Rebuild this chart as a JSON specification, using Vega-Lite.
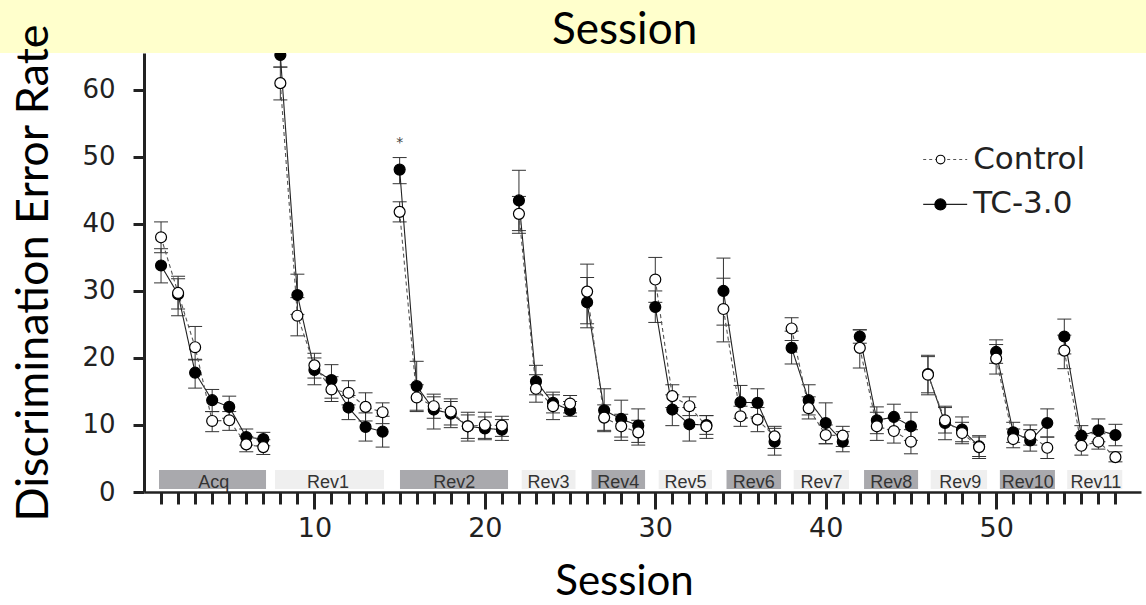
{
  "$schema": "https://vega.github.io/schema/vega-lite/v6.json",
  "width": 997,
  "height": 439,
  "autosize": {"type": "none"},
  "padding": {"left": 144, "top": 53, "right": 5, "bottom": 113},
  "background": "#ffffff",
  "config": {"view": {"stroke": null}},
  "resolve": {"axis": {"x": "independent"}},
  "datasets": {
    "blocks": [
      {"block": "Acq", "start": 0.88, "end": 7.16, "mid": 4.1, "shade": "dark"},
      {"block": "Rev1", "start": 7.69, "end": 14.08, "mid": 10.8, "shade": "light"},
      {"block": "Rev2", "start": 15.02, "end": 21.36, "mid": 18.2, "shade": "dark"},
      {"block": "Rev3", "start": 22.16, "end": 25.32, "mid": 23.74, "shade": "light"},
      {"block": "Rev4", "start": 26.26, "end": 29.4, "mid": 27.83, "shade": "dark"},
      {"block": "Rev5", "start": 30.2, "end": 33.33, "mid": 31.77, "shade": "light"},
      {"block": "Rev6", "start": 34.18, "end": 37.38, "mid": 35.78, "shade": "dark"},
      {"block": "Rev7", "start": 38.12, "end": 41.37, "mid": 39.75, "shade": "light"},
      {"block": "Rev8", "start": 42.25, "end": 45.42, "mid": 43.84, "shade": "dark"},
      {"block": "Rev9", "start": 46.16, "end": 49.47, "mid": 47.9, "shade": "light"},
      {"block": "Rev10", "start": 50.22, "end": 53.45, "mid": 51.86, "shade": "dark"},
      {"block": "Rev11", "start": 54.17, "end": 57.4, "mid": 55.85, "shade": "light"}
    ],
    "note": [{"session": 15, "rate": 52.0, "mark": "*"}],
    "pts": [
      {"session": 1, "block": "Acq", "group": "TC-3.0", "rate": 33.8, "lo": 31.2, "hi": 36.3},
      {"session": 2, "block": "Acq", "group": "TC-3.0", "rate": 29.5, "lo": 26.3, "hi": 31.8},
      {"session": 3, "block": "Acq", "group": "TC-3.0", "rate": 17.8, "lo": 15.5, "hi": 19.8},
      {"session": 4, "block": "Acq", "group": "TC-3.0", "rate": 13.7, "lo": 12.0, "hi": 15.3},
      {"session": 5, "block": "Acq", "group": "TC-3.0", "rate": 12.7, "lo": 11.0, "hi": 14.3},
      {"session": 6, "block": "Acq", "group": "TC-3.0", "rate": 8.2, "lo": 7.0, "hi": 9.4},
      {"session": 7, "block": "Acq", "group": "TC-3.0", "rate": 7.9, "lo": 6.9, "hi": 8.9},
      {"session": 8, "block": "Rev1", "group": "TC-3.0", "rate": 65.2, "lo": 63.4, "hi": 67.0},
      {"session": 9, "block": "Rev1", "group": "TC-3.0", "rate": 29.4, "lo": 26.5, "hi": 32.5},
      {"session": 10, "block": "Rev1", "group": "TC-3.0", "rate": 18.2, "lo": 16.0, "hi": 20.0},
      {"session": 11, "block": "Rev1", "group": "TC-3.0", "rate": 16.7, "lo": 14.0, "hi": 19.0},
      {"session": 12, "block": "Rev1", "group": "TC-3.0", "rate": 12.6, "lo": 10.8, "hi": 14.4},
      {"session": 13, "block": "Rev1", "group": "TC-3.0", "rate": 9.7, "lo": 7.6, "hi": 11.8},
      {"session": 14, "block": "Rev1", "group": "TC-3.0", "rate": 9.0, "lo": 6.7, "hi": 11.3},
      {"session": 15, "block": "Rev2", "group": "TC-3.0", "rate": 48.1, "lo": 46.0, "hi": 49.9},
      {"session": 16, "block": "Rev2", "group": "TC-3.0", "rate": 15.8, "lo": 12.0, "hi": 19.5},
      {"session": 17, "block": "Rev2", "group": "TC-3.0", "rate": 12.3, "lo": 9.4, "hi": 14.2},
      {"session": 18, "block": "Rev2", "group": "TC-3.0", "rate": 11.7, "lo": 9.6, "hi": 13.5},
      {"session": 19, "block": "Rev2", "group": "TC-3.0", "rate": 9.8, "lo": 8.0, "hi": 11.5},
      {"session": 20, "block": "Rev2", "group": "TC-3.0", "rate": 9.5, "lo": 7.8, "hi": 11.2},
      {"session": 21, "block": "Rev2", "group": "TC-3.0", "rate": 9.3, "lo": 7.7, "hi": 10.8},
      {"session": 22, "block": "Rev3", "group": "TC-3.0", "rate": 43.5, "lo": 39.0, "hi": 48.0},
      {"session": 23, "block": "Rev3", "group": "TC-3.0", "rate": 16.5, "lo": 14.5, "hi": 18.9},
      {"session": 24, "block": "Rev3", "group": "TC-3.0", "rate": 13.3, "lo": 11.8, "hi": 14.9},
      {"session": 25, "block": "Rev3", "group": "TC-3.0", "rate": 12.2, "lo": 11.3, "hi": 13.5},
      {"session": 26, "block": "Rev4", "group": "TC-3.0", "rate": 28.3, "lo": 24.5, "hi": 32.0},
      {"session": 27, "block": "Rev4", "group": "TC-3.0", "rate": 12.2, "lo": 9.0, "hi": 15.4},
      {"session": 28, "block": "Rev4", "group": "TC-3.0", "rate": 10.9, "lo": 8.2, "hi": 13.7},
      {"session": 29, "block": "Rev4", "group": "TC-3.0", "rate": 9.9, "lo": 7.4, "hi": 12.4},
      {"session": 30, "block": "Rev5", "group": "TC-3.0", "rate": 27.6, "lo": 25.3, "hi": 30.0},
      {"session": 31, "block": "Rev5", "group": "TC-3.0", "rate": 12.3, "lo": 9.9, "hi": 14.5},
      {"session": 32, "block": "Rev5", "group": "TC-3.0", "rate": 10.1, "lo": 7.6, "hi": 12.6},
      {"session": 33, "block": "Rev5", "group": "TC-3.0", "rate": 10.0, "lo": 8.6, "hi": 11.4},
      {"session": 34, "block": "Rev6", "group": "TC-3.0", "rate": 30.0, "lo": 24.9, "hi": 34.9},
      {"session": 35, "block": "Rev6", "group": "TC-3.0", "rate": 13.4, "lo": 11.0, "hi": 15.9},
      {"session": 36, "block": "Rev6", "group": "TC-3.0", "rate": 13.3, "lo": 11.2, "hi": 15.4},
      {"session": 37, "block": "Rev6", "group": "TC-3.0", "rate": 7.5, "lo": 5.5, "hi": 9.5},
      {"session": 38, "block": "Rev7", "group": "TC-3.0", "rate": 21.5, "lo": 19.1, "hi": 24.0},
      {"session": 39, "block": "Rev7", "group": "TC-3.0", "rate": 13.7, "lo": 11.5, "hi": 16.0},
      {"session": 40, "block": "Rev7", "group": "TC-3.0", "rate": 10.3, "lo": 7.2, "hi": 13.3},
      {"session": 41, "block": "Rev7", "group": "TC-3.0", "rate": 7.5, "lo": 6.0, "hi": 9.0},
      {"session": 42, "block": "Rev8", "group": "TC-3.0", "rate": 23.2, "lo": 22.2, "hi": 24.2},
      {"session": 43, "block": "Rev8", "group": "TC-3.0", "rate": 10.7, "lo": 8.7, "hi": 12.7},
      {"session": 44, "block": "Rev8", "group": "TC-3.0", "rate": 11.2, "lo": 9.3, "hi": 13.1},
      {"session": 45, "block": "Rev8", "group": "TC-3.0", "rate": 9.8, "lo": 7.7, "hi": 11.9},
      {"session": 46, "block": "Rev9", "group": "TC-3.0", "rate": 17.6, "lo": 14.8, "hi": 20.2},
      {"session": 47, "block": "Rev9", "group": "TC-3.0", "rate": 10.3, "lo": 7.8, "hi": 12.8},
      {"session": 48, "block": "Rev9", "group": "TC-3.0", "rate": 9.3, "lo": 7.5, "hi": 11.2},
      {"session": 49, "block": "Rev9", "group": "TC-3.0", "rate": 6.8, "lo": 5.3, "hi": 8.2},
      {"session": 50, "block": "Rev10", "group": "TC-3.0", "rate": 20.9, "lo": 19.2, "hi": 22.7},
      {"session": 51, "block": "Rev10", "group": "TC-3.0", "rate": 8.9, "lo": 7.4, "hi": 10.4},
      {"session": 52, "block": "Rev10", "group": "TC-3.0", "rate": 7.7, "lo": 6.1, "hi": 9.3},
      {"session": 53, "block": "Rev10", "group": "TC-3.0", "rate": 10.3, "lo": 8.2, "hi": 12.4},
      {"session": 54, "block": "Rev11", "group": "TC-3.0", "rate": 23.2, "lo": 20.6, "hi": 25.8},
      {"session": 55, "block": "Rev11", "group": "TC-3.0", "rate": 8.4, "lo": 7.0, "hi": 9.9},
      {"session": 56, "block": "Rev11", "group": "TC-3.0", "rate": 9.2, "lo": 7.5, "hi": 10.9},
      {"session": 57, "block": "Rev11", "group": "TC-3.0", "rate": 8.5, "lo": 6.9, "hi": 10.1},
      {"session": 1, "block": "Acq", "group": "Control", "rate": 38.0, "lo": 35.7, "hi": 40.3},
      {"session": 2, "block": "Acq", "group": "Control", "rate": 29.7, "lo": 27.3, "hi": 32.2},
      {"session": 3, "block": "Acq", "group": "Control", "rate": 21.6, "lo": 19.7, "hi": 24.7},
      {"session": 4, "block": "Acq", "group": "Control", "rate": 10.6, "lo": 9.0, "hi": 12.0},
      {"session": 5, "block": "Acq", "group": "Control", "rate": 10.7, "lo": 9.2, "hi": 12.0},
      {"session": 6, "block": "Acq", "group": "Control", "rate": 7.1, "lo": 6.0, "hi": 8.3},
      {"session": 7, "block": "Acq", "group": "Control", "rate": 6.7, "lo": 5.6, "hi": 7.8},
      {"session": 8, "block": "Rev1", "group": "Control", "rate": 61.0, "lo": 58.5, "hi": 63.4},
      {"session": 9, "block": "Rev1", "group": "Control", "rate": 26.3, "lo": 23.3, "hi": 29.0},
      {"session": 10, "block": "Rev1", "group": "Control", "rate": 18.9, "lo": 17.0, "hi": 20.7},
      {"session": 11, "block": "Rev1", "group": "Control", "rate": 15.3, "lo": 13.5, "hi": 17.2},
      {"session": 12, "block": "Rev1", "group": "Control", "rate": 14.8, "lo": 13.0, "hi": 16.6},
      {"session": 13, "block": "Rev1", "group": "Control", "rate": 12.7, "lo": 10.6, "hi": 14.8},
      {"session": 14, "block": "Rev1", "group": "Control", "rate": 11.9, "lo": 10.2, "hi": 13.3},
      {"session": 15, "block": "Rev2", "group": "Control", "rate": 41.8, "lo": 40.3, "hi": 43.3},
      {"session": 16, "block": "Rev2", "group": "Control", "rate": 14.1, "lo": 12.2, "hi": 16.0},
      {"session": 17, "block": "Rev2", "group": "Control", "rate": 12.8, "lo": 11.0, "hi": 14.6},
      {"session": 18, "block": "Rev2", "group": "Control", "rate": 12.0, "lo": 10.0, "hi": 13.9},
      {"session": 19, "block": "Rev2", "group": "Control", "rate": 9.8, "lo": 7.6, "hi": 11.9},
      {"session": 20, "block": "Rev2", "group": "Control", "rate": 10.0, "lo": 8.0, "hi": 11.9},
      {"session": 21, "block": "Rev2", "group": "Control", "rate": 9.9, "lo": 8.3, "hi": 11.3},
      {"session": 22, "block": "Rev3", "group": "Control", "rate": 41.5, "lo": 38.6, "hi": 44.1},
      {"session": 23, "block": "Rev3", "group": "Control", "rate": 15.4, "lo": 13.4, "hi": 17.5},
      {"session": 24, "block": "Rev3", "group": "Control", "rate": 12.8, "lo": 10.8, "hi": 14.5},
      {"session": 25, "block": "Rev3", "group": "Control", "rate": 13.2, "lo": 11.8, "hi": 14.4},
      {"session": 26, "block": "Rev4", "group": "Control", "rate": 29.9, "lo": 25.1, "hi": 34.0},
      {"session": 27, "block": "Rev4", "group": "Control", "rate": 11.1, "lo": 9.2, "hi": 13.0},
      {"session": 28, "block": "Rev4", "group": "Control", "rate": 9.8, "lo": 7.7, "hi": 11.6},
      {"session": 29, "block": "Rev4", "group": "Control", "rate": 8.9, "lo": 7.0, "hi": 10.7},
      {"session": 30, "block": "Rev5", "group": "Control", "rate": 31.7, "lo": 28.3, "hi": 35.0},
      {"session": 31, "block": "Rev5", "group": "Control", "rate": 14.3, "lo": 12.6, "hi": 16.0},
      {"session": 32, "block": "Rev5", "group": "Control", "rate": 12.8, "lo": 11.4, "hi": 14.2},
      {"session": 33, "block": "Rev5", "group": "Control", "rate": 9.8, "lo": 8.0, "hi": 11.4},
      {"session": 34, "block": "Rev6", "group": "Control", "rate": 27.3, "lo": 22.4, "hi": 31.9},
      {"session": 35, "block": "Rev6", "group": "Control", "rate": 11.3, "lo": 9.8, "hi": 12.8},
      {"session": 36, "block": "Rev6", "group": "Control", "rate": 10.8, "lo": 9.0, "hi": 12.6},
      {"session": 37, "block": "Rev6", "group": "Control", "rate": 8.3, "lo": 6.5, "hi": 9.8},
      {"session": 38, "block": "Rev7", "group": "Control", "rate": 24.4, "lo": 22.6, "hi": 26.0},
      {"session": 39, "block": "Rev7", "group": "Control", "rate": 12.5, "lo": 10.9, "hi": 14.2},
      {"session": 40, "block": "Rev7", "group": "Control", "rate": 8.5, "lo": 7.2, "hi": 10.0},
      {"session": 41, "block": "Rev7", "group": "Control", "rate": 8.4, "lo": 6.8, "hi": 9.8},
      {"session": 42, "block": "Rev8", "group": "Control", "rate": 21.5, "lo": 18.5, "hi": 24.2},
      {"session": 43, "block": "Rev8", "group": "Control", "rate": 9.8, "lo": 7.7, "hi": 11.9},
      {"session": 44, "block": "Rev8", "group": "Control", "rate": 9.1, "lo": 7.3, "hi": 11.0},
      {"session": 45, "block": "Rev8", "group": "Control", "rate": 7.5, "lo": 5.7, "hi": 9.3},
      {"session": 46, "block": "Rev9", "group": "Control", "rate": 17.5, "lo": 14.5, "hi": 20.4},
      {"session": 47, "block": "Rev9", "group": "Control", "rate": 10.7, "lo": 8.8, "hi": 12.6},
      {"session": 48, "block": "Rev9", "group": "Control", "rate": 8.8, "lo": 7.2, "hi": 10.4},
      {"session": 49, "block": "Rev9", "group": "Control", "rate": 6.7, "lo": 5.0, "hi": 8.4},
      {"session": 50, "block": "Rev10", "group": "Control", "rate": 19.9, "lo": 17.6, "hi": 22.0},
      {"session": 51, "block": "Rev10", "group": "Control", "rate": 7.9, "lo": 6.6, "hi": 9.4},
      {"session": 52, "block": "Rev10", "group": "Control", "rate": 8.5, "lo": 7.0, "hi": 10.0},
      {"session": 53, "block": "Rev10", "group": "Control", "rate": 6.6, "lo": 5.0, "hi": 8.2},
      {"session": 54, "block": "Rev11", "group": "Control", "rate": 21.1, "lo": 18.4, "hi": 23.4},
      {"session": 55, "block": "Rev11", "group": "Control", "rate": 6.9, "lo": 5.5, "hi": 8.4},
      {"session": 56, "block": "Rev11", "group": "Control", "rate": 7.5, "lo": 6.4, "hi": 8.7},
      {"session": 57, "block": "Rev11", "group": "Control", "rate": 5.2, "lo": 4.5, "hi": 6.0}
    ]
  },
  "layer": [
    {
      "data": {"name": "blocks"},
      "mark": {"type": "rect"},
      "encoding": {
        "x": {"field": "start", "type": "quantitative", "scale": {"domain": [0, 58.5], "nice": false, "zero": false}, "axis": null},
        "x2": {"field": "end"},
        "y": {"datum": 0.45, "type": "quantitative", "scale": {"domain": [0, 65.5], "nice": false}, "title": "Discrimination Error Rate"},
        "y2": {"datum": 3.3},
        "color": {"field": "shade", "type": "nominal", "scale": {"domain": ["dark", "light"], "range": ["#a9a9ad", "#efefef"]}, "legend": null}
      }
    },
    {
      "data": {"name": "blocks"},
      "mark": {"type": "text", "font": "Liberation Sans", "fontSize": 18, "fill": "#333333", "baseline": "alphabetic", "align": "center"},
      "encoding": {
        "x": {"field": "mid", "type": "quantitative", "scale": {"domain": [0, 58.5], "nice": false, "zero": false}, "axis": null},
        "y": {"datum": 0.6, "type": "quantitative", "scale": {"domain": [0, 65.5], "nice": false}, "title": "Discrimination Error Rate"},
        "text": {"field": "block"}
      }
    },
    {
      "data": {"name": "pts"},
      "mark": {"type": "rule", "color": "#333333", "strokeWidth": 1},
      "encoding": {
        "x": {
          "field": "session", "type": "quantitative",
          "scale": {"domain": [0, 58.5], "nice": false, "zero": false},
          "axis": {
            "orient": "bottom",
            "values": [1,2,3,4,5,6,7,8,9,10,11,12,13,14,15,16,17,18,19,20,21,22,23,24,25,26,27,28,29,30,31,32,33,34,35,36,37,38,39,40,41,42,43,44,45,46,47,48,49,50,51,52,53,54,55,56,57],
            "labels": false,
            "title": null,
            "tickSize": 12,
            "tickWidth": 3,
            "tickColor": "#222222",
            "domainColor": "#222222",
            "domainWidth": 2.5,
            "grid": false,
            "zindex": 1
          }
        },
        "y": {
          "field": "lo", "type": "quantitative",
          "scale": {"domain": [0, 65.5], "nice": false},
          "title": "Discrimination Error Rate",
          "axis": {
            "values": [0, 10, 20, 30, 40, 50, 60],
            "tickSize": 11,
            "tickWidth": 3,
            "tickColor": "#222222",
            "domainColor": "#222222",
            "domainWidth": 3,
            "labelFont": "DejaVu Sans",
            "labelFontSize": 26,
            "labelColor": "#222222",
            "labelPadding": 18,
            "grid": false,
            "titleFont": "Lato",
            "titleFontSize": 45,
            "titleFontWeight": "normal",
            "titleColor": "#000000",
            "titlePadding": 25,
            "zindex": 1
          }
        },
        "y2": {"field": "hi"}
      }
    },
    {
      "data": {"name": "pts"},
      "mark": {"type": "tick", "orient": "horizontal", "size": 14, "thickness": 1, "color": "#333333", "opacity": 1},
      "encoding": {
        "x": {
          "field": "session", "type": "quantitative",
          "scale": {"domain": [0, 58.5], "nice": false, "zero": false},
          "title": "Session",
          "axis": {
            "orient": "bottom",
            "values": [10, 20, 30, 40, 50],
            "domain": false,
            "tickSize": 17,
            "tickWidth": 3,
            "tickColor": "#222222",
            "labelFont": "DejaVu Sans",
            "labelFontSize": 27,
            "labelColor": "#222222",
            "labelPadding": 6,
            "grid": false,
            "titleFont": "Lato",
            "titleFontSize": 42,
            "titleFontWeight": "normal",
            "titleColor": "#000000",
            "titlePadding": 20,
            "titleX": 480,
            "zindex": 1
          }
        },
        "y": {"field": "lo", "type": "quantitative", "scale": {"domain": [0, 65.5], "nice": false}, "title": "Discrimination Error Rate"}
      }
    },
    {
      "data": {"name": "pts"},
      "mark": {"type": "tick", "orient": "horizontal", "size": 14, "thickness": 1, "color": "#333333", "opacity": 1},
      "encoding": {
        "x": {"field": "session", "type": "quantitative", "scale": {"domain": [0, 58.5], "nice": false, "zero": false}, "axis": null},
        "y": {"field": "hi", "type": "quantitative", "scale": {"domain": [0, 65.5], "nice": false}, "title": "Discrimination Error Rate"}
      }
    },
    {
      "data": {"name": "pts"},
      "mark": {"type": "line", "strokeWidth": 1.1},
      "encoding": {
        "x": {"field": "session", "type": "quantitative", "scale": {"domain": [0, 58.5], "nice": false, "zero": false}, "axis": null},
        "y": {"field": "rate", "type": "quantitative", "scale": {"domain": [0, 65.5], "nice": false}, "title": "Discrimination Error Rate"},
        "detail": {"field": "block"},
        "stroke": {"field": "group", "type": "nominal", "scale": {"domain": ["Control", "TC-3.0"], "range": ["#555555", "#222222"]}, "legend": null},
        "strokeDash": {"field": "group", "type": "nominal", "scale": {"domain": ["Control", "TC-3.0"], "range": [[4, 3], [1, 0]]}, "legend": null}
      }
    },
    {
      "data": {"name": "pts"},
      "mark": {"type": "point", "shape": "circle", "filled": true, "size": 120, "stroke": "#000000", "strokeWidth": 1.2, "opacity": 1},
      "encoding": {
        "x": {"field": "session", "type": "quantitative", "scale": {"domain": [0, 58.5], "nice": false, "zero": false}, "axis": null},
        "y": {"field": "rate", "type": "quantitative", "scale": {"domain": [0, 65.5], "nice": false}, "title": "Discrimination Error Rate"},
        "fill": {"field": "group", "type": "nominal", "scale": {"domain": ["Control", "TC-3.0"], "range": ["#ffffff", "#000000"]}, "legend": null}
      }
    },
    {
      "data": {"name": "note"},
      "mark": {"type": "text", "font": "DejaVu Sans", "fontSize": 14, "fill": "#444444", "baseline": "middle", "align": "center"},
      "encoding": {
        "x": {"field": "session", "type": "quantitative", "scale": {"domain": [0, 58.5], "nice": false, "zero": false}, "axis": null},
        "y": {"field": "rate", "type": "quantitative", "scale": {"domain": [0, 65.5], "nice": false}, "title": "Discrimination Error Rate"},
        "text": {"field": "mark"}
      }
    },
    {
      "data": {"values": [{}]},
      "mark": {"type": "rule", "color": "#555555", "strokeWidth": 1.1, "strokeDash": [3, 3]},
      "encoding": {
        "x": {"datum": 45.72, "type": "quantitative", "scale": {"domain": [0, 58.5], "nice": false, "zero": false}, "axis": null},
        "x2": {"datum": 48.3},
        "y": {"datum": 49.6, "type": "quantitative", "scale": {"domain": [0, 65.5], "nice": false}, "title": "Discrimination Error Rate"}
      }
    },
    {
      "data": {"values": [{}]},
      "mark": {"type": "point", "shape": "circle", "filled": true, "fill": "#ffffff", "size": 75, "stroke": "#000000", "strokeWidth": 1.1, "opacity": 1},
      "encoding": {
        "x": {"datum": 46.74, "type": "quantitative", "scale": {"domain": [0, 58.5], "nice": false, "zero": false}, "axis": null},
        "y": {"datum": 49.6, "type": "quantitative", "scale": {"domain": [0, 65.5], "nice": false}, "title": "Discrimination Error Rate"}
      }
    },
    {
      "data": {"values": [{}]},
      "mark": {"type": "text", "text": "Control", "font": "DejaVu Sans", "fontSize": 31, "fill": "#222222", "baseline": "middle", "align": "left"},
      "encoding": {
        "x": {"datum": 48.65, "type": "quantitative", "scale": {"domain": [0, 58.5], "nice": false, "zero": false}, "axis": null},
        "y": {"datum": 49.6, "type": "quantitative", "scale": {"domain": [0, 65.5], "nice": false}, "title": "Discrimination Error Rate"}
      }
    },
    {
      "data": {"values": [{}]},
      "mark": {"type": "rule", "color": "#222222", "strokeWidth": 1.2},
      "encoding": {
        "x": {"datum": 45.72, "type": "quantitative", "scale": {"domain": [0, 58.5], "nice": false, "zero": false}, "axis": null},
        "x2": {"datum": 48.3},
        "y": {"datum": 42.9, "type": "quantitative", "scale": {"domain": [0, 65.5], "nice": false}, "title": "Discrimination Error Rate"}
      }
    },
    {
      "data": {"values": [{}]},
      "mark": {"type": "point", "shape": "circle", "filled": true, "fill": "#000000", "size": 125, "stroke": "#000000", "strokeWidth": 1.1, "opacity": 1},
      "encoding": {
        "x": {"datum": 46.73, "type": "quantitative", "scale": {"domain": [0, 58.5], "nice": false, "zero": false}, "axis": null},
        "y": {"datum": 42.9, "type": "quantitative", "scale": {"domain": [0, 65.5], "nice": false}, "title": "Discrimination Error Rate"}
      }
    },
    {
      "data": {"values": [{}]},
      "mark": {"type": "text", "text": "TC-3.0", "font": "DejaVu Sans", "fontSize": 31, "fill": "#222222", "baseline": "middle", "align": "left"},
      "encoding": {
        "x": {"datum": 48.65, "type": "quantitative", "scale": {"domain": [0, 58.5], "nice": false, "zero": false}, "axis": null},
        "y": {"datum": 42.9, "type": "quantitative", "scale": {"domain": [0, 65.5], "nice": false}, "title": "Discrimination Error Rate"}
      }
    },
    {
      "data": {"values": [{}]},
      "mark": {"type": "rect", "color": "#ffffcc", "clip": false},
      "encoding": {
        "x": {"datum": -10, "type": "quantitative", "scale": {"domain": [0, 58.5], "nice": false, "zero": false}, "axis": null},
        "x2": {"datum": 62},
        "y": {"datum": 65.5, "type": "quantitative", "scale": {"domain": [0, 65.5], "nice": false}, "title": "Discrimination Error Rate"},
        "y2": {"datum": 80}
      }
    },
    {
      "data": {"values": [{}]},
      "mark": {"type": "text", "text": "Session", "font": "Lato", "fontSize": 44, "fill": "#000000", "baseline": "alphabetic", "align": "center", "clip": false},
      "encoding": {
        "x": {"datum": 28.2, "type": "quantitative", "scale": {"domain": [0, 58.5], "nice": false, "zero": false}, "axis": null},
        "y": {"datum": 66.9, "type": "quantitative", "scale": {"domain": [0, 65.5], "nice": false}, "title": "Discrimination Error Rate"}
      }
    }
  ]
}
